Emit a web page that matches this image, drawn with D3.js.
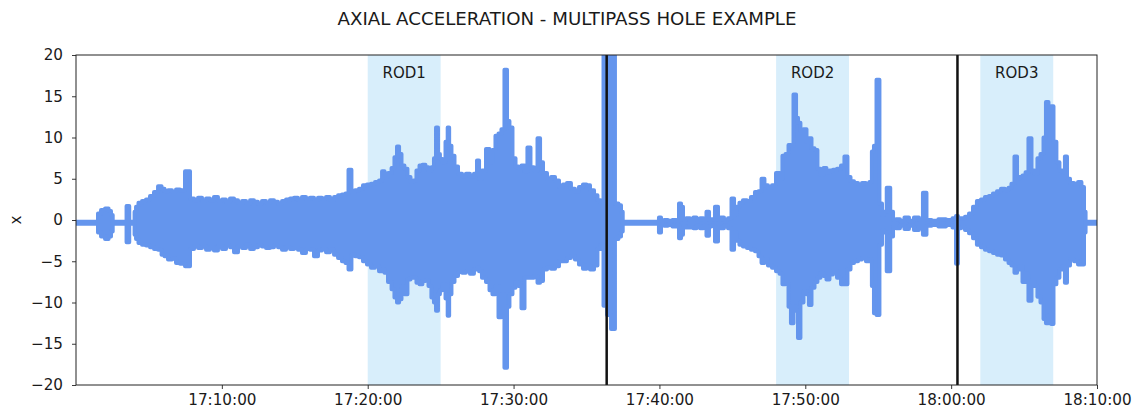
<!DOCTYPE html>
<html>
<head>
<meta charset="utf-8">
<script src="https://cdn.jsdelivr.net/npm/d3@7"></script>
<style>
  body { margin: 0; background: #fff; }
  text { font-family: "DejaVu Sans", sans-serif; fill: #1a1a1a; }
</style>
</head>
<body>
<svg id="chart" width="1134" height="414"></svg>
<script>
// Envelope of the axial acceleration trace: time stamp, max and min of the signal.
const stamps = [
  "17:00:00","17:01:26","17:01:35","17:01:51","17:02:08","17:02:20","17:02:28","17:02:34",
  "17:03:22","17:03:34","17:03:44","17:03:59","17:04:03","17:04:11","17:04:23","17:04:40",
  "17:04:56","17:05:13","17:05:29","17:05:46","17:05:58","17:06:10","17:06:27","17:06:43",
  "17:07:00","17:07:16","17:07:41","17:07:57","17:08:14","17:08:30","17:08:47","17:09:03",
  "17:09:19","17:09:36","17:09:52","17:10:09","17:10:25","17:10:42","17:10:58","17:11:15",
  "17:11:31","17:11:48","17:12:04","17:12:20","17:12:37","17:12:53","17:13:10","17:13:26",
  "17:13:43","17:13:59","17:14:16","17:14:32","17:14:49","17:15:05","17:15:21","17:15:38",
  "17:15:54","17:16:11","17:16:27","17:16:44","17:17:00","17:17:17","17:17:33","17:17:50",
  "17:18:06","17:18:22","17:18:35","17:18:47","17:18:59","17:19:16","17:19:32","17:19:49",
  "17:20:05","17:20:22","17:20:38","17:20:55","17:21:03","17:21:15","17:21:32","17:21:44",
  "17:21:56","17:22:05","17:22:13","17:22:25","17:22:37","17:22:50","17:23:02","17:23:14",
  "17:23:27","17:23:39","17:23:51","17:24:04","17:24:16","17:24:28","17:24:37","17:24:45",
  "17:24:53","17:25:01","17:25:14","17:25:26","17:25:32","17:25:38","17:25:51","17:26:03",
  "17:26:20","17:26:36","17:26:52","17:27:09","17:27:25","17:27:34","17:27:42","17:27:58",
  "17:28:15","17:28:27","17:28:39","17:28:52","17:29:04","17:29:16","17:29:29","17:29:37",
  "17:29:49","17:30:02","17:30:14","17:30:26","17:30:39","17:30:51","17:31:03","17:31:16",
  "17:31:32","17:31:45","17:31:53","17:32:09","17:32:26","17:32:42","17:32:59","17:33:15",
  "17:33:31","17:33:48","17:34:04","17:34:21","17:34:37","17:34:54","17:35:06","17:35:23",
  "17:35:39","17:35:51","17:36:04","17:36:16","17:36:33","17:36:49","17:37:05","17:37:18",
  "17:37:26","17:37:32","17:38:40","17:39:54","17:40:02","17:40:11","17:40:27","17:40:43",
  "17:41:04","17:41:16","17:41:25","17:41:33","17:41:41","17:41:58","17:42:14","17:42:26",
  "17:42:39","17:42:55","17:43:07","17:43:20","17:43:28","17:43:40","17:43:57","17:44:05",
  "17:44:17","17:44:34","17:44:50","17:45:03","17:45:11","17:45:23","17:45:35","17:45:52",
  "17:46:08","17:46:25","17:46:41","17:46:54","17:47:06","17:47:18","17:47:35","17:47:51",
  "17:48:08","17:48:20","17:48:32","17:48:45","17:48:57","17:49:05","17:49:18","17:49:26",
  "17:49:34","17:49:46","17:49:59","17:50:11","17:50:19","17:50:32","17:50:44","17:50:56",
  "17:51:09","17:51:21","17:51:33","17:51:46","17:52:02","17:52:19","17:52:35","17:52:47",
  "17:53:00","17:53:12","17:53:29","17:53:45","17:54:01","17:54:18","17:54:30","17:54:38",
  "17:54:47","17:54:59","17:55:11","17:55:20","17:55:28","17:55:42","17:55:57","17:56:05",
  "17:56:21","17:56:38","17:56:58","17:57:15","17:57:39","17:57:56","17:58:12","17:58:25",
  "17:58:53","17:59:22","17:59:55","18:00:16","18:00:24","18:00:32","18:00:49","18:01:05",
  "18:01:22","18:01:38","18:01:54","18:02:11","18:02:27","18:02:44","18:03:00","18:03:17",
  "18:03:33","18:03:50","18:04:02","18:04:14","18:04:27","18:04:35","18:04:47","18:05:00",
  "18:05:12","18:05:24","18:05:37","18:05:49","18:06:01","18:06:14","18:06:26","18:06:34",
  "18:06:47","18:06:55","18:07:07","18:07:19","18:07:32","18:07:44","18:07:52","18:08:01",
  "18:08:17","18:08:34","18:08:50","18:09:02","18:09:11","18:09:15","18:10:00"
];
const upper = [
  -0.2,-0.2,0.8,1.2,1.4,1.1,0.6,-0.2,
  -0.2,1.7,-0.2,-0.2,1.0,1.6,2.1,2.3,
  2.5,2.9,3.4,4.1,3.8,3.5,3.6,3.4,
  3.7,3.6,5.9,2.6,2.4,2.7,2.3,2.6,
  2.4,2.8,2.3,2.5,2.2,2.6,2.4,2.1,
  2.3,2.0,2.4,2.2,2.0,2.3,2.1,2.4,
  2.2,2.0,2.3,2.5,2.6,2.7,2.5,2.8,
  2.6,2.7,2.5,2.7,2.6,2.8,2.5,2.8,
  3.0,3.1,3.2,6.1,3.4,3.6,3.8,4.2,
  4.3,4.4,4.6,4.8,5.9,5.2,5.7,6.3,
  7.6,8.9,8.0,6.6,6.2,5.2,4.6,4.8,
  6.0,6.6,6.7,6.4,6.0,6.4,7.5,11.2,
  8.0,7.4,7.0,9.5,11.2,9.0,7.8,6.5,
  5.6,5.3,5.6,5.3,5.6,7.2,5.0,6.0,
  8.6,7.0,8.5,10.2,10.5,11.0,18.2,12.0,
  11.2,7.5,6.5,6.3,6.6,5.9,8.8,6.4,
  6.0,9.9,7.0,5.7,5.0,5.2,4.8,4.0,
  4.3,4.5,3.8,3.5,4.0,4.3,4.2,3.6,
  3.0,2.4,2.0,21,21,21,2.0,1.8,
  1.0,-0.2,-0.2,-0.2,0.3,-0.1,0.0,-0.1,
  0.0,-0.1,2.0,1.6,0.0,0.2,0.0,0.3,
  0.0,0.2,0.0,1.0,0.0,0.1,1.6,0.0,
  0.3,0.0,0.2,2.6,0.6,1.6,2.1,2.4,
  2.3,2.8,3.4,3.5,5.0,4.2,3.9,4.2,
  5.7,5.0,7.8,8.0,9.1,9.0,15.2,12.4,
  11.8,10.8,11.0,9.5,9.9,8.7,8.5,6.2,
  5.5,6.3,5.8,6.0,6.1,6.2,6.6,7.7,
  5.2,4.7,4.5,4.3,4.5,4.4,4.6,8.3,
  9.0,17.0,2.0,0.6,1.0,3.9,1.0,0.0,
  0.1,-0.1,0.3,-0.1,0.3,0.0,3.3,0.0,
  -0.1,0.1,0.0,0.2,0.5,0.2,0.2,0.4,
  0.8,1.6,2.3,2.5,2.8,2.9,3.2,3.5,
  3.8,3.6,3.9,4.4,7.7,5.0,5.2,5.4,
  5.8,9.9,6.0,5.6,7.5,8.0,10.0,14.3,
  10.5,13.8,9.5,7.0,6.0,5.8,7.7,5.0,
  4.5,4.4,4.6,4.0,1.0,-0.2,-0.2
];
const lower = [
  -0.45,-0.45,-1.5,-2.0,-2.3,-2.0,-1.4,-0.45,
  -0.45,-2.7,-0.45,-0.45,-1.8,-2.3,-2.8,-3.0,
  -3.1,-3.3,-3.5,-3.6,-4.2,-4.4,-4.8,-4.7,
  -5.2,-5.3,-5.6,-3.5,-3.2,-3.4,-3.2,-3.6,
  -3.3,-3.7,-3.2,-3.5,-3.1,-3.3,-3.9,-3.2,
  -3.4,-3.0,-3.5,-3.3,-3.1,-3.2,-3.4,-3.3,
  -3.1,-3.3,-3.6,-3.3,-3.5,-3.4,-3.6,-4.0,
  -3.5,-3.6,-4.4,-3.7,-3.5,-3.9,-3.6,-4.2,
  -4.6,-5.0,-5.2,-6.0,-4.2,-4.4,-4.5,-5.0,
  -5.4,-5.8,-5.6,-6.2,-6.0,-6.4,-7.5,-8.4,
  -9.4,-10.0,-9.6,-8.0,-9.0,-7.2,-7.0,-7.0,
  -7.6,-7.8,-7.4,-7.3,-8.0,-9.4,-10.0,-11.0,
  -9.0,-8.5,-7.8,-9.5,-11.6,-9.0,-7.5,-6.8,
  -6.3,-6.4,-6.2,-6.5,-6.0,-5.8,-6.2,-7.0,
  -7.5,-8.5,-9.0,-8.0,-11.8,-9.0,-17.9,-10.5,
  -9.0,-8.2,-7.5,-8.0,-10.7,-7.0,-7.0,-7.0,
  -6.8,-7.6,-7.4,-6.0,-5.8,-5.9,-5.6,-5.0,
  -5.0,-4.6,-4.4,-4.8,-5.4,-5.9,-5.5,-6.0,
  -5.5,-3.5,-3.0,-10.4,-11.5,-13.2,-2.3,-2.0,
  -1.4,-0.45,-0.45,-0.45,-1.5,-0.6,-0.7,-0.6,
  -0.8,-0.6,-2.2,-1.8,-0.8,-0.9,-0.9,-1.0,
  -0.7,-1.0,-0.7,-1.9,-0.8,-0.7,-2.6,-0.9,
  -1.0,-0.7,-1.0,-3.6,-1.5,-2.5,-3.0,-3.2,
  -3.4,-3.6,-3.8,-4.4,-5.2,-4.8,-5.5,-5.8,
  -6.2,-6.5,-7.8,-7.5,-10.5,-12.5,-10.5,-11.0,
  -14.3,-10.0,-8.6,-9.0,-10.3,-8.2,-7.5,-7.0,
  -6.4,-6.8,-7.2,-6.6,-6.2,-7.0,-7.8,-7.8,
  -6.0,-5.2,-5.0,-4.8,-4.6,-5.0,-4.8,-8.0,
  -11.3,-11.5,-3.0,-1.2,-1.5,-6.2,-2.0,-0.8,
  -1.0,-0.7,-1.1,-0.7,-1.2,-0.8,-1.8,-0.7,
  -0.6,-0.8,-0.6,-0.9,-5.3,-1.0,-0.9,-1.2,
  -1.6,-2.2,-3.0,-3.3,-3.6,-3.8,-4.0,-4.2,
  -4.3,-4.8,-5.2,-5.5,-6.4,-6.0,-5.6,-7.5,
  -6.5,-9.8,-7.5,-8.0,-9.3,-10.0,-12.0,-12.5,
  -11.5,-12.6,-7.8,-7.0,-6.0,-5.6,-7.6,-5.5,
  -4.8,-5.0,-5.4,-5.4,-1.5,-0.45,-0.45
];

// Drill rod intervals and the pass breaks between them.
const rodNames = ["ROD1", "ROD2", "ROD3"];
const rodStart = ["17:20:00", "17:48:00", "18:02:00"];
const rodEnd = ["17:25:00", "17:53:00", "18:07:00"];
const passBreaks = ["17:36:23", "18:00:26"];

const xTickLabels = ["17:10:00", "17:20:00", "17:30:00", "17:40:00", "17:50:00", "18:00:00", "18:10:00"];
const yTickValues = [-20, -15, -10, -5, 0, 5, 10, 15, 20];
const timeRange = ["17:00:00", "18:10:00"];
const valueRange = [-20, 20];

const parse = d3.timeParse("%H:%M:%S");
const svg = d3.select("#chart");
const plotLeft = 76, plotRight = 1097, plotTop = 55, plotBottom = 385;

const x = d3.scaleTime().domain(timeRange.map(parse)).range([plotLeft, plotRight]);
const y = d3.scaleLinear().domain(valueRange).range([plotBottom, plotTop]);

svg.append("defs").append("clipPath").attr("id", "plot-clip")
  .append("rect").attr("x", plotLeft).attr("y", plotTop)
  .attr("width", plotRight - plotLeft).attr("height", plotBottom - plotTop);

// Rod spans
svg.append("g").selectAll("rect").data(rodNames).join("rect")
  .attr("x", (d, i) => x(parse(rodStart[i])))
  .attr("y", plotTop)
  .attr("width", (d, i) => x(parse(rodEnd[i])) - x(parse(rodStart[i])))
  .attr("height", plotBottom - plotTop)
  .attr("fill", "#d8eefb");

svg.append("g").selectAll("text").data(rodNames).join("text")
  .attr("x", (d, i) => (x(parse(rodStart[i])) + x(parse(rodEnd[i]))) / 2)
  .attr("y", 78)
  .attr("text-anchor", "middle")
  .attr("font-size", "15px")
  .text(d => d);

// Signal envelope
const points = stamps.map((s, i) => ({ t: parse(s), hi: upper[i], lo: lower[i] }));
const area = d3.area()
  .x(d => x(d.t))
  .y0(d => y(d.lo))
  .y1(d => y(d.hi))
  .curve(d3.curveStep);

svg.append("path")
  .datum(points)
  .attr("clip-path", "url(#plot-clip)")
  .attr("d", area)
  .attr("fill", "#6495ed")
  .attr("stroke", "#6495ed")
  .attr("stroke-width", 4)
  .attr("stroke-linejoin", "round");

// Pass breaks
svg.append("g").selectAll("line").data(passBreaks).join("line")
  .attr("x1", d => x(parse(d))).attr("x2", d => x(parse(d)))
  .attr("y1", plotTop).attr("y2", plotBottom)
  .attr("stroke", "#111")
  .attr("stroke-width", 2.5);

// Axes
const xAxis = d3.axisBottom(x)
  .tickValues(xTickLabels.map(parse))
  .tickFormat(d3.timeFormat("%H:%M:%S"))
  .tickSize(4).tickPadding(5).tickSizeOuter(0);
const gx = svg.append("g").attr("transform", `translate(0,${plotBottom})`).call(xAxis);

const yAxis = d3.axisLeft(y)
  .tickValues(yTickValues)
  .tickSize(4).tickPadding(9).tickSizeOuter(0);
const gy = svg.append("g").attr("transform", `translate(${plotLeft},0)`).call(yAxis);

[gx, gy].forEach(g => {
  g.select(".domain").remove();
  g.selectAll(".tick line").attr("stroke", "#222").attr("stroke-width", 0.9);
  g.selectAll(".tick text")
    .attr("font-family", "DejaVu Sans, sans-serif")
    .attr("font-size", "15.2px")
    .attr("fill", "#1a1a1a");
});

// Frame
svg.append("rect")
  .attr("x", plotLeft).attr("y", plotTop)
  .attr("width", plotRight - plotLeft).attr("height", plotBottom - plotTop)
  .attr("fill", "none").attr("stroke", "#222").attr("stroke-width", 1);

// Titles
svg.append("text")
  .attr("x", 567).attr("y", 25)
  .attr("text-anchor", "middle")
  .attr("font-size", "18.2px")
  .text("AXIAL ACCELERATION - MULTIPASS HOLE EXAMPLE");

svg.append("text")
  .attr("transform", "translate(21,220) rotate(-90)")
  .attr("text-anchor", "middle")
  .attr("font-size", "15.2px")
  .text("x");
</script>
</body>
</html>
